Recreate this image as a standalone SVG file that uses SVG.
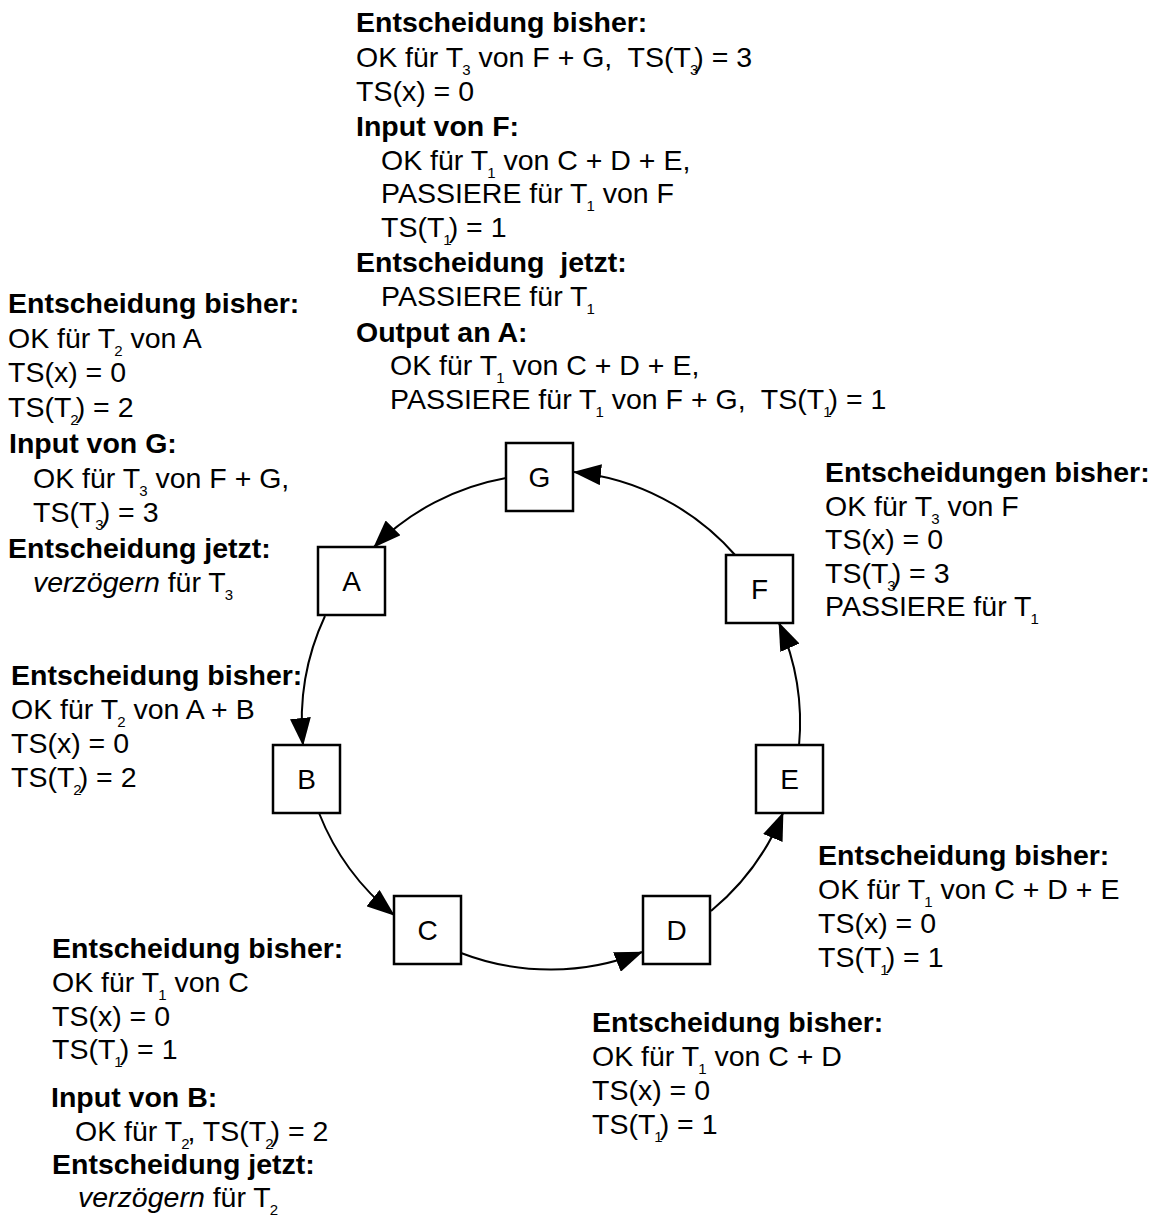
<svg xmlns="http://www.w3.org/2000/svg" width="1164" height="1216" viewBox="0 0 1164 1216">
  <style>
    text { font-family: "Liberation Sans", Arial, sans-serif; font-size: 28.5px; fill: #000; }
    .b { font-weight: bold; }
    .i { font-style: italic; }
    .s { font-size: 15px; }
    .lbl { font-size: 28px; text-anchor: middle; }
    .box { fill: #fff; stroke: #000; stroke-width: 2.5; }
    .edge { fill: none; stroke: #000; stroke-width: 2; marker-end: url(#arrow); }
  </style>
  <defs>
    <marker id="arrow" markerUnits="userSpaceOnUse" viewBox="0 0 28 21" markerWidth="28" markerHeight="21" refX="27" refY="10.5" orient="auto">
      <path d="M0,0 L28,10.5 L0,21 z" fill="#000"/>
    </marker>
  </defs>
  <rect width="1164" height="1216" fill="#fff"/>

  <!-- ring connectors -->
  <g id="connectors">
    <path class="edge" d="M506,478 A248,248 0 0 0 374,547"/>
    <path class="edge" d="M325,616 A248,248 0 0 0 303,745"/>
    <path class="edge" d="M319,813 A248,248 0 0 0 394,915"/>
    <path class="edge" d="M461,953 A248,248 0 0 0 642,952"/>
    <path class="edge" d="M711,911 A248,248 0 0 0 783,813"/>
    <path class="edge" d="M799,746 A248,248 0 0 0 779,623"/>
    <path class="edge" d="M736,556 A248,248 0 0 0 574,472"/>
  </g>

  <!-- nodes -->
  <g id="node-G"><rect class="box" x="506" y="443" width="67" height="68"/><text class="lbl" x="539.5" y="487">G</text></g>
  <g id="node-A"><rect class="box" x="318" y="547" width="67" height="68"/><text class="lbl" x="351.5" y="591">A</text></g>
  <g id="node-F"><rect class="box" x="726" y="555" width="67" height="68"/><text class="lbl" x="759.5" y="599">F</text></g>
  <g id="node-B"><rect class="box" x="273" y="745" width="67" height="68"/><text class="lbl" x="306.5" y="789">B</text></g>
  <g id="node-E"><rect class="box" x="756" y="745" width="67" height="68"/><text class="lbl" x="789.5" y="789">E</text></g>
  <g id="node-C"><rect class="box" x="394" y="896" width="67" height="68"/><text class="lbl" x="427.5" y="940">C</text></g>
  <g id="node-D"><rect class="box" x="643" y="896" width="67" height="68"/><text class="lbl" x="676.5" y="940">D</text></g>

  <!-- state of G -->
  <g id="note-G">
    <text class="b" x="356" y="32">Entscheidung bisher:</text>
    <text x="356" y="67">OK für T<tspan class="s" dx="-1" dy="8">3</tspan><tspan dy="-8"> von F + G,&#160; TS(T</tspan><tspan class="s" dx="-1" dy="8">3</tspan><tspan dx="-4" dy="-8">) = 3</tspan></text>
    <text x="356" y="101">TS(x) = 0</text>
    <text class="b" x="356" y="136">Input von F:</text>
    <text x="381" y="170">OK für T<tspan class="s" dx="-1" dy="8">1</tspan><tspan dy="-8"> von C + D + E,</tspan></text>
    <text x="381" y="203">PASSIERE für T<tspan class="s" dx="-1" dy="8">1</tspan><tspan dy="-8"> von F</tspan></text>
    <text x="381" y="237">TS(T<tspan class="s" dx="-1" dy="8">1</tspan><tspan dx="-3" dy="-8">) = 1</tspan></text>
    <text class="b" x="356" y="272">Entscheidung&#160; jetzt:</text>
    <text x="381" y="306">PASSIERE für T<tspan class="s" dx="-1" dy="8">1</tspan></text>
    <text class="b" x="356" y="342">Output an A:</text>
    <text x="390" y="375">OK für T<tspan class="s" dx="-1" dy="8">1</tspan><tspan dy="-8"> von C + D + E,</tspan></text>
    <text x="390" y="409">PASSIERE für T<tspan class="s" dx="-1" dy="8">1</tspan><tspan dy="-8"> von F + G,&#160; TS(T</tspan><tspan class="s" dx="-1" dy="8">1</tspan><tspan dx="-3" dy="-8">) = 1</tspan></text>
  </g>

  <!-- state of A -->
  <g id="note-A">
    <text class="b" x="8" y="313">Entscheidung bisher:</text>
    <text x="8" y="348">OK für T<tspan class="s" dx="-1" dy="8">2</tspan><tspan dy="-8"> von A</tspan></text>
    <text x="8" y="382">TS(x) = 0</text>
    <text x="8" y="417">TS(T<tspan class="s" dx="-1" dy="8">2</tspan><tspan dx="-3" dy="-8">) = 2</tspan></text>
    <text class="b" x="9" y="453">Input von G:</text>
    <text x="33" y="488">OK für T<tspan class="s" dx="-1" dy="8">3</tspan><tspan dy="-8"> von F + G,</tspan></text>
    <text x="33" y="522">TS(T<tspan class="s" dx="-1" dy="8">3</tspan><tspan dx="-3" dy="-8">) = 3</tspan></text>
    <text class="b" x="8" y="558">Entscheidung jetzt:</text>
    <text x="33" y="592"><tspan class="i">verzögern</tspan> für T<tspan class="s" dx="-1" dy="8">3</tspan></text>
  </g>

  <!-- state of B -->
  <g id="note-B">
    <text class="b" x="11" y="685">Entscheidung bisher:</text>
    <text x="11" y="719">OK für T<tspan class="s" dx="-1" dy="8">2</tspan><tspan dy="-8"> von A + B</tspan></text>
    <text x="11" y="753">TS(x) = 0</text>
    <text x="11" y="787">TS(T<tspan class="s" dx="-1" dy="8">2</tspan><tspan dx="-3" dy="-8">) = 2</tspan></text>
  </g>

  <!-- state of F -->
  <g id="note-F">
    <text class="b" x="825" y="482">Entscheidungen bisher:</text>
    <text x="825" y="516">OK für T<tspan class="s" dx="-1" dy="8">3</tspan><tspan dy="-8"> von F</tspan></text>
    <text x="825" y="549">TS(x) = 0</text>
    <text x="825" y="583">TS(T<tspan class="s" dx="-1" dy="8">3</tspan><tspan dx="-4" dy="-8">) = 3</tspan></text>
    <text x="825" y="616">PASSIERE für T<tspan class="s" dx="-1" dy="8">1</tspan></text>
  </g>

  <!-- state of E -->
  <g id="note-E">
    <text class="b" x="818" y="865">Entscheidung bisher:</text>
    <text x="818" y="899">OK für T<tspan class="s" dx="-1" dy="8">1</tspan><tspan dy="-8"> von C + D + E</tspan></text>
    <text x="818" y="933">TS(x) = 0</text>
    <text x="818" y="967">TS(T<tspan class="s" dx="-1" dy="8">1</tspan><tspan dx="-3" dy="-8">) = 1</tspan></text>
  </g>

  <!-- state of D -->
  <g id="note-D">
    <text class="b" x="592" y="1032">Entscheidung bisher:</text>
    <text x="592" y="1066">OK für T<tspan class="s" dx="-1" dy="8">1</tspan><tspan dy="-8"> von C + D</tspan></text>
    <text x="592" y="1100">TS(x) = 0</text>
    <text x="592" y="1134">TS(T<tspan class="s" dx="-1" dy="8">1</tspan><tspan dx="-3" dy="-8">) = 1</tspan></text>
  </g>

  <!-- state of C -->
  <g id="note-C">
    <text class="b" x="52" y="958">Entscheidung bisher:</text>
    <text x="52" y="992">OK für T<tspan class="s" dx="-1" dy="8">1</tspan><tspan dy="-8"> von C</tspan></text>
    <text x="52" y="1026">TS(x) = 0</text>
    <text x="52" y="1059">TS(T<tspan class="s" dx="-1" dy="8">1</tspan><tspan dx="-3" dy="-8">) = 1</tspan></text>
    <text class="b" x="51" y="1107">Input von B:</text>
    <text x="75" y="1141">OK für T<tspan class="s" dx="-1" dy="8">2</tspan><tspan dx="-2" dy="-8">, TS(T</tspan><tspan class="s" dx="-1" dy="8">2</tspan><tspan dx="-3" dy="-8">) = 2</tspan></text>
    <text class="b" x="52" y="1174">Entscheidung jetzt:</text>
    <text x="78" y="1207"><tspan class="i">verzögern</tspan> für T<tspan class="s" dx="-1" dy="8">2</tspan></text>
  </g>
</svg>
